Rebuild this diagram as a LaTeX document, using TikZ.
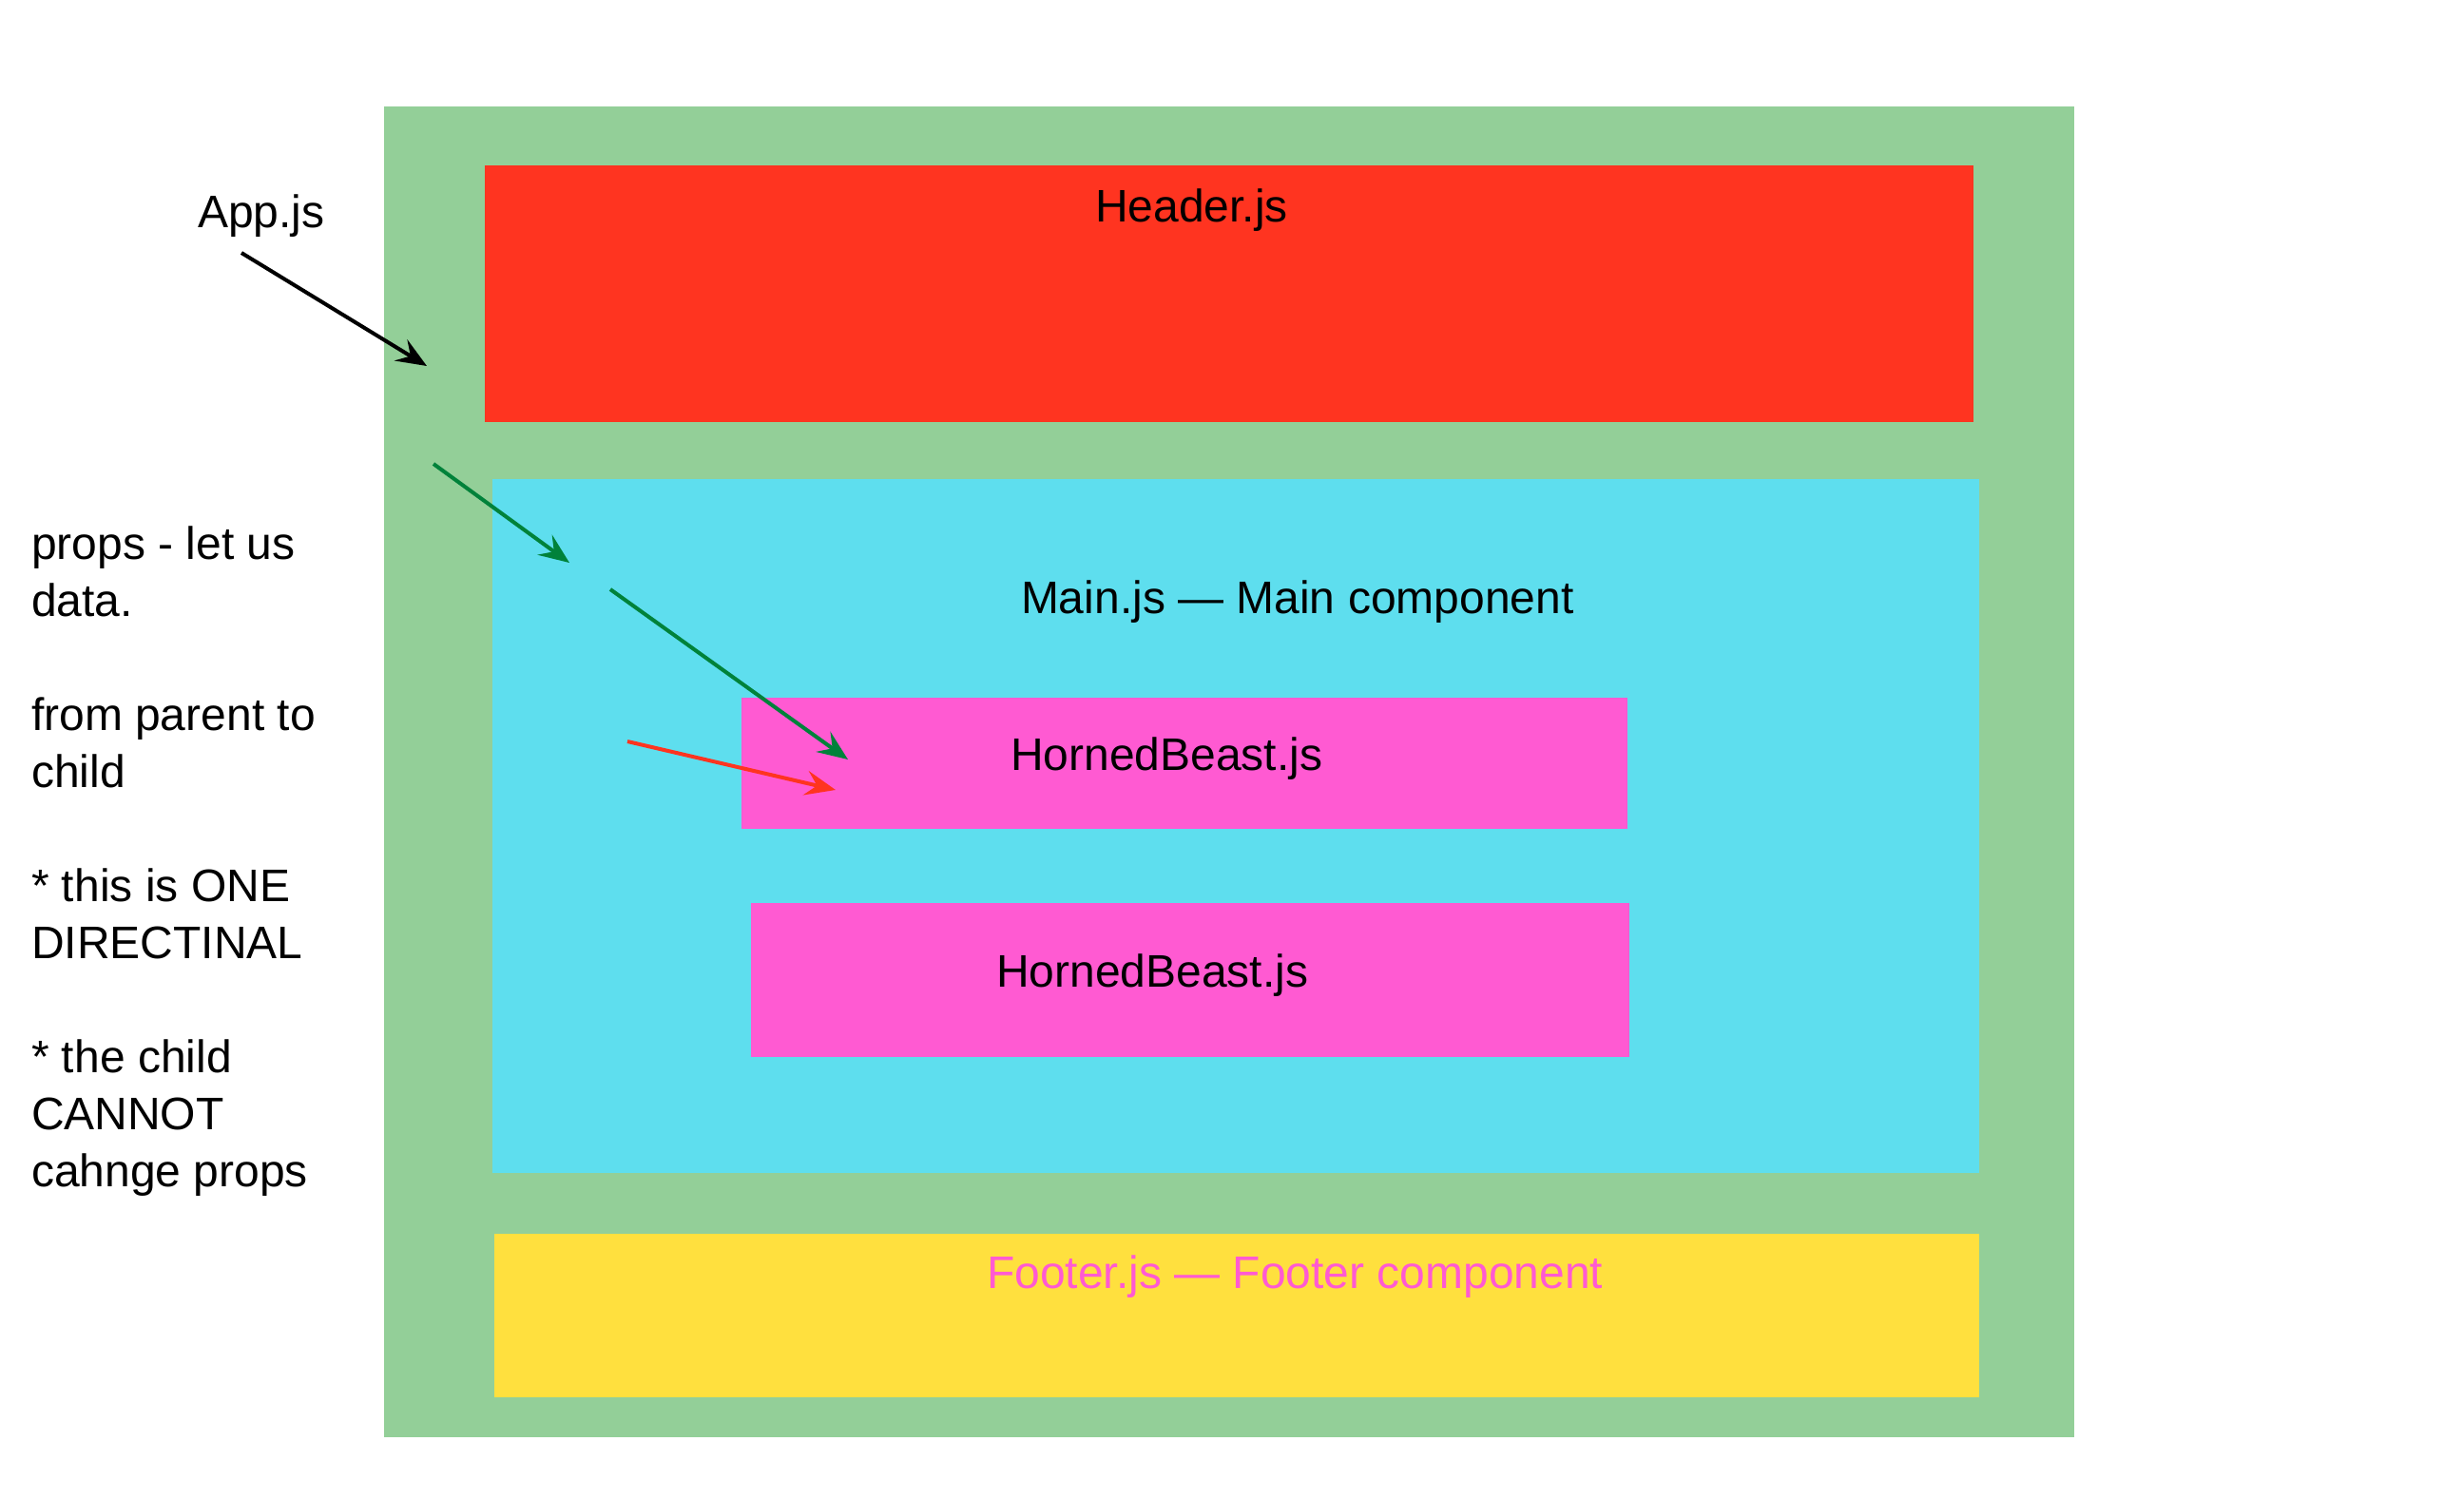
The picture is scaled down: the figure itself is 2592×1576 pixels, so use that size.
\documentclass[tikz,border=0pt]{standalone}
\usepackage{fontspec}
\setmainfont{Liberation Sans}
\usetikzlibrary{arrows.meta}
\definecolor{appgreen}{HTML}{93CF98}
\definecolor{hdrred}{HTML}{FF3420}
\definecolor{maincyan}{HTML}{5EDEEE}
\definecolor{beastpink}{HTML}{FF5AD2}
\definecolor{footyellow}{HTML}{FFE03E}
\definecolor{arrowgreen}{HTML}{00823A}
\begin{document}
\begin{tikzpicture}[x=0.5pt,y=-0.5pt,
  block/.style={draw=none, inner sep=0pt, outer sep=0pt, anchor=north west},
  lbl/.style={anchor=base west, inner sep=0pt, outer sep=0pt, font=\fontsize{24}{28.8}\selectfont},
  conn/.style={line width=2pt, -{Stealth[length=16pt,width=13pt,inset=6pt]}}]
\useasboundingbox (0,0) rectangle (2592,1576);
\fill[white] (0,0) rectangle (2592,1576);
% boxes
\node[block, fill=appgreen, minimum width=889pt, minimum height=700pt] (app) at (404,112) {};
\node[block, fill=hdrred, minimum width=783pt, minimum height=135pt] (header) at (510,174) {};
\node[block, fill=maincyan, minimum width=782pt, minimum height=365pt] (main) at (518,504) {};
\node[block, fill=beastpink, minimum width=466pt, minimum height=69pt] (beast1) at (780,734) {};
\node[block, fill=beastpink, minimum width=462pt, minimum height=81pt] (beast2) at (790,950) {};
\node[block, fill=footyellow, minimum width=781pt, minimum height=86pt] (footer) at (520,1298) {};
% labels
\node[lbl] (applbl) at (208,239) {App.js};
\node[lbl] (hdrlbl) at (1152,233) {Header.js};
\node[lbl] (mainlbl) at (1074,645) {Main.js — Main component};
\node[lbl] (b1lbl) at (1063,810) {HornedBeast.js};
\node[lbl] (b2lbl) at (1048,1038) {HornedBeast.js};
\node[lbl, text=beastpink] (footlbl) at (1038,1355) {Footer.js — Footer component};
% side notes
\node[lbl] (n1) at (33,588) {props - let us};
\node[lbl] (n2) at (33,648) {data.};
\node[lbl] (n3) at (33,768) {from parent to};
\node[lbl] (n4) at (33,828) {child};
\node[lbl] (n5) at (33,948) {* this is ONE};
\node[lbl] (n6) at (33,1008) {DIRECTINAL};
\node[lbl] (n7) at (33,1128) {* the child};
\node[lbl] (n8) at (33,1188) {CANNOT};
\node[lbl] (n9) at (33,1248) {cahnge props};
% connector end points
\coordinate (a1s) at (254,266);
\coordinate (a1e) at (449,385);
\coordinate (g1s) at (456,488);
\coordinate (g1e) at (599,592);
\coordinate (g2s) at (642,620);
\coordinate (g2e) at (892,799);
\coordinate (r1s) at (660,780);
\coordinate (r1e) at (879,831);
% connectors
\draw[conn, black] (a1s) -- (a1e);
\draw[conn, arrowgreen] (g1s) -- (g1e);
\draw[conn, arrowgreen] (g2s) -- (g2e);
\draw[conn, hdrred] (r1s) -- (r1e);
\end{tikzpicture}
\end{document}
